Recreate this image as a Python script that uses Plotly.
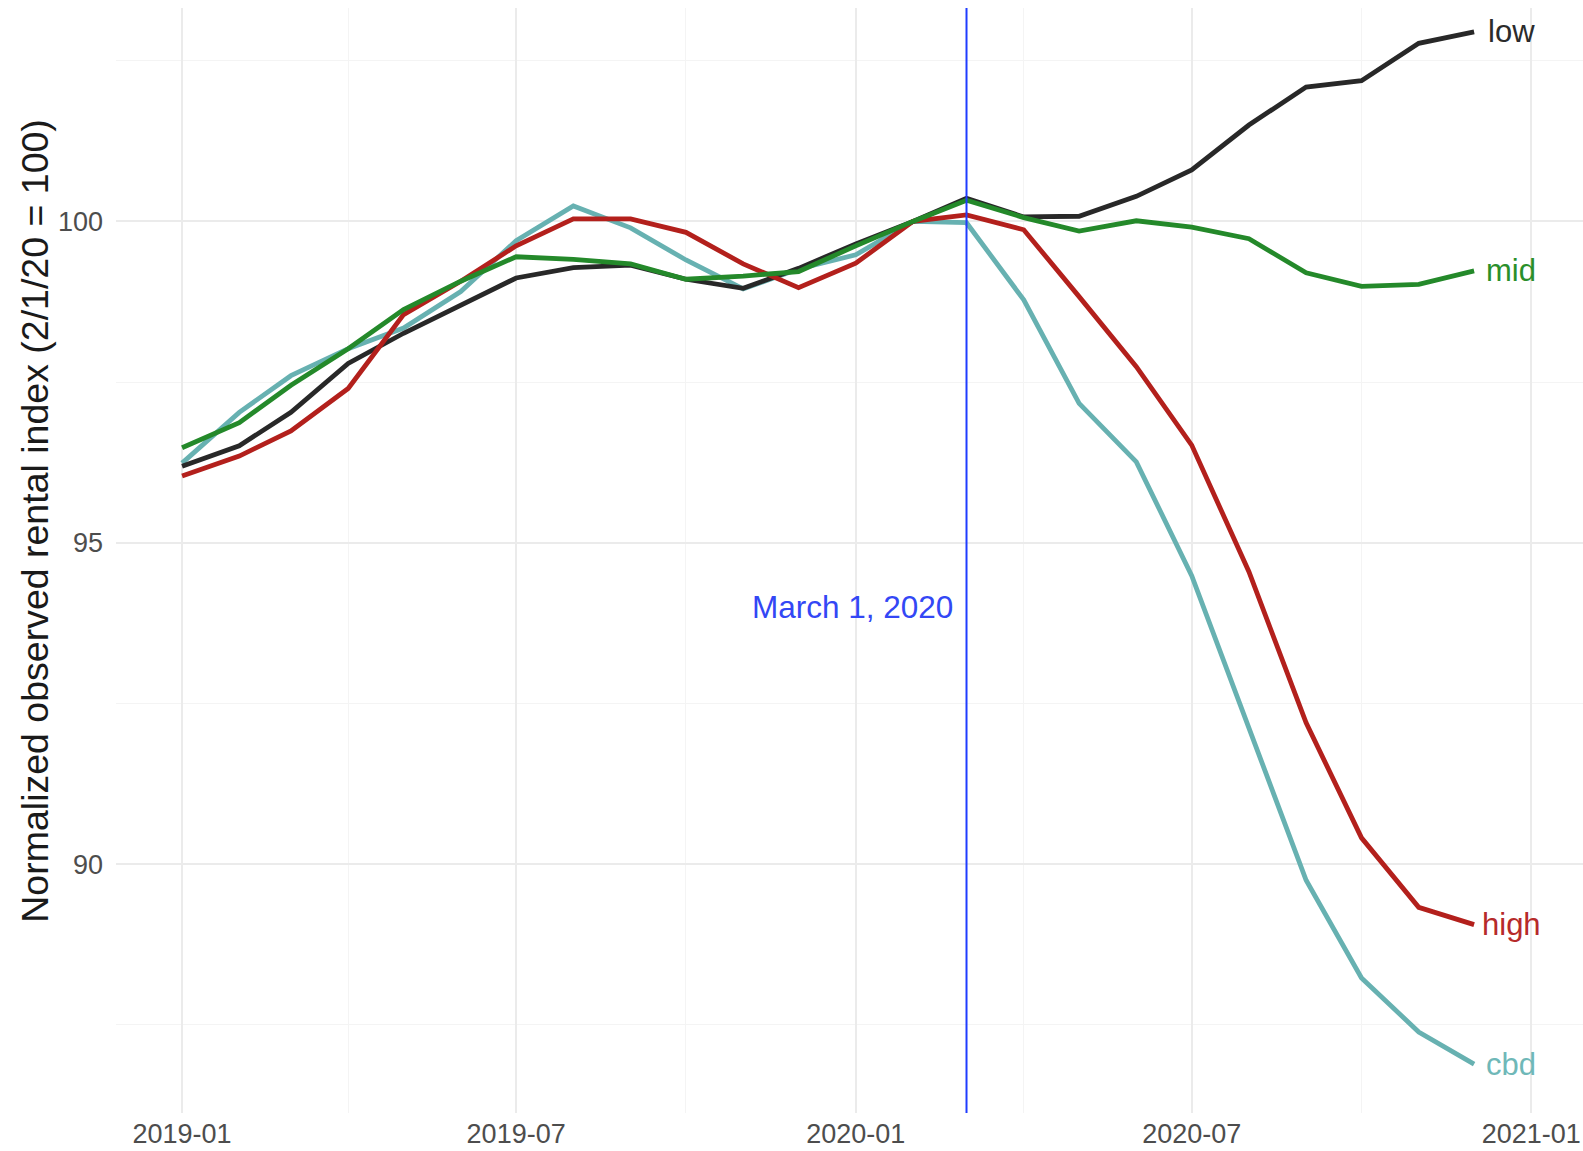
import plotly.graph_objects as go

dates = ["2019-01-01", "2019-02-01", "2019-03-01", "2019-04-01", "2019-05-01", "2019-06-01",
         "2019-07-01", "2019-08-01", "2019-09-01", "2019-10-01", "2019-11-01", "2019-12-01",
         "2020-01-01", "2020-02-01", "2020-03-01", "2020-04-01", "2020-05-01", "2020-06-01",
         "2020-07-01", "2020-08-01", "2020-09-01", "2020-10-01", "2020-11-01", "2020-12-01"]

low = [96.19, 96.51, 97.03, 97.79, 98.26, 98.70, 99.12, 99.28, 99.32, 99.10, 98.96, 99.27,
       99.65, 100.0, 100.36, 100.07, 100.08, 100.39, 100.80, 101.50, 102.09, 102.19, 102.77, 102.95]
mid = [96.48, 96.87, 97.45, 98.02, 98.63, 99.07, 99.45, 99.41, 99.34, 99.10, 99.15, 99.22,
       99.62, 100.0, 100.33, 100.06, 99.85, 100.01, 99.91, 99.73, 99.20, 98.99, 99.02, 99.23]
high = [96.04, 96.35, 96.74, 97.40, 98.55, 99.07, 99.62, 100.04, 100.04, 99.83, 99.34, 98.97,
        99.35, 100.0, 100.10, 99.87, 98.83, 97.74, 96.52, 94.55, 92.20, 90.41, 89.33, 89.06]
cbd = [96.24, 97.03, 97.60, 98.02, 98.34, 98.91, 99.70, 100.24, 99.90, 99.40, 98.95, 99.26,
       99.48, 100.0, 99.98, 98.78, 97.17, 96.26, 94.49, 92.10, 89.75, 88.23, 87.39, 86.89]

series_names = ["cbd", "low", "high", "mid"]
series_values = {"low": low, "mid": mid, "high": high, "cbd": cbd}
series_colors = {"low": "#282828", "mid": "#24892a", "high": "#b3201c", "cbd": "#67b1b1"}
label_colors = {"low": "#2b2b2b", "mid": "#2a8f2a", "high": "#b62a2a", "cbd": "#6fb8b8"}

event_date = "2020-03-01"
event_label = "March 1, 2020"
event_label_y = 94.0
label_date = "2020-12-21"

x_range = ["2018-11-26 05:00", "2021-01-29 00:00"]
y_range = [86.13, 103.32]

FONT = "Liberation Sans, Arial, sans-serif"

fig = go.Figure()
for name in series_names:
    fig.add_trace(go.Scatter(
        x=dates, y=series_values[name], mode="lines", name=name,
        line=dict(color=series_colors[name], width=4.8),
        hoverinfo="skip"))

for name in ["low", "mid", "high", "cbd"]:
    fig.add_annotation(x=label_date, y=series_values[name][-1], text=name,
                       showarrow=False, xanchor="center", yanchor="middle",
                       font=dict(family=FONT, size=31, color=label_colors[name]))

fig.add_shape(type="line", xref="x", yref="paper", x0=event_date, x1=event_date,
              y0=0, y1=1, line=dict(color="#1f3cff", width=2), layer="above")

fig.add_annotation(x=event_date, y=event_label_y, text=event_label, showarrow=False,
                   xanchor="right", yanchor="middle", xshift=-12,
                   font=dict(family=FONT, size=31.5, color="#3347f5"))

fig.add_annotation(xref="paper", yref="paper", x=0, y=0.536, xshift=-81,
                   text="Normalized observed rental index (2/1/20 = 100)",
                   textangle=-90, showarrow=False, xanchor="center", yanchor="middle",
                   font=dict(family=FONT, size=37.5, color="#1a1a1a"))

tick_font = dict(family=FONT, size=27, color="#4d4d4d")

fig.update_layout(
    width=1583, height=1151,
    margin=dict(l=116, r=0, t=8, b=38),
    plot_bgcolor="white", paper_bgcolor="white",
    showlegend=False,
    xaxis=dict(type="date", range=x_range, tick0="2019-01-01", dtick="M6",
               tickformat="%Y-%m", showgrid=True, gridcolor="#ebebeb", gridwidth=1.6,
               minor=dict(dtick="M3", tick0="2019-01-01", showgrid=True,
                          gridcolor="#f4f4f4", gridwidth=1),
               zeroline=False, showline=False, ticks="", tickfont=tick_font,
               ticklabelstandoff=2, ticklabeloverflow="allow"),
    yaxis=dict(range=y_range, tick0=0, dtick=5, showgrid=True, gridcolor="#ebebeb",
               gridwidth=1.6,
               minor=dict(dtick=2.5, tick0=0, showgrid=True, gridcolor="#f4f4f4", gridwidth=1),
               zeroline=False, showline=False, ticks="", tickfont=tick_font,
               ticklabelstandoff=12),
)

fig.write_html("out.html", config={"displayModeBar": False},
               post_script="document.body.style.margin='0';document.body.style.overflow='hidden';")
